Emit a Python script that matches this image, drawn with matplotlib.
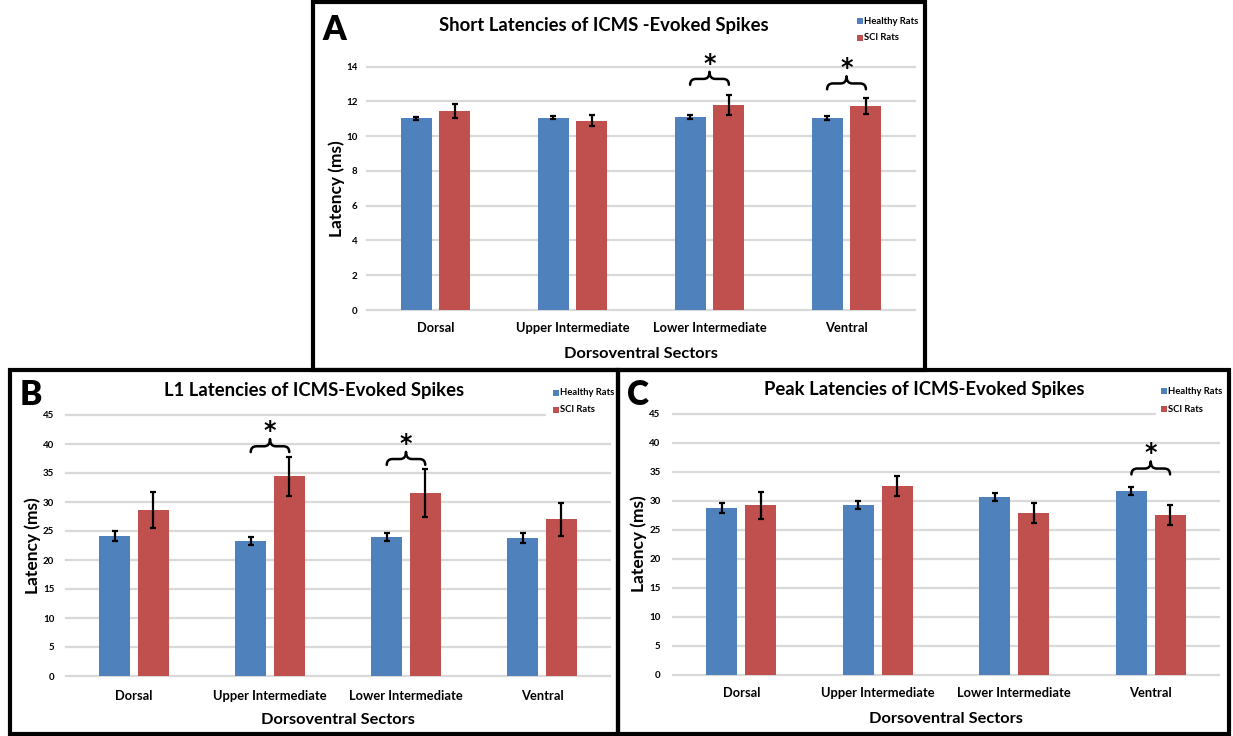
import numpy as np
import matplotlib
matplotlib.use('Agg')
import matplotlib.pyplot as plt
from matplotlib.patches import Rectangle, PathPatch
from matplotlib.path import Path

plt.rcParams['font.family'] = ['Lato', 'DejaVu Sans']
plt.rcParams['font.weight'] = 'bold'

W, H = 1233, 736

sectors = ['Dorsal', 'Upper Intermediate', 'Lower Intermediate', 'Ventral']
groups = ['Healthy Rats', 'SCI Rats']

# short latencies (ms)
short_healthy = [11.03, 11.07, 11.10, 11.05]
short_healthy_err = [0.08, 0.08, 0.10, 0.10]
short_sci = [11.45, 10.90, 11.80, 11.74]
short_sci_err = [0.43, 0.33, 0.60, 0.45]

# L1 latencies (ms)
l1_healthy = [24.2, 23.3, 24.0, 23.8]
l1_healthy_err = [0.85, 0.65, 0.65, 0.80]
l1_sci = [28.7, 34.4, 31.6, 27.0]
l1_sci_err = [3.10, 3.35, 4.15, 2.85]

# peak latencies (ms)
peak_healthy = [28.7, 29.2, 30.6, 31.6]
peak_healthy_err = [0.80, 0.65, 0.70, 0.70]
peak_sci = [29.2, 32.5, 27.9, 27.5]
peak_sci_err = [2.35, 1.80, 1.70, 1.70]

# significant differences: (sector index, height of brace ends)
short_sig = [(2, 12.96), (3, 12.70)]
l1_sig = [(1, 38.6), (2, 36.4)]
peak_sig = [(3, 34.5)]

BLUE = '#4F81BD'
RED = '#C0504D'
GRID = '#D9D9D9'


def fx(x):
    return x / W


def fy(y):
    return 1 - y / H


def draw_brace(ax, x0, x1, yb, h):
    xm = (x0 + x1) / 2
    r = 0.15 * (x1 - x0)
    ym = yb + 0.45 * h
    yt = yb + h
    verts = [(x0, yb), (x0, ym), (x0 + r, ym), (xm - r, ym), (xm, ym), (xm, yt),
             (xm, ym), (xm + r, ym), (x1 - r, ym), (x1, ym), (x1, yb)]
    codes = [Path.MOVETO, Path.CURVE3, Path.CURVE3, Path.LINETO, Path.CURVE3, Path.CURVE3,
             Path.CURVE3, Path.CURVE3, Path.LINETO, Path.CURVE3, Path.CURVE3]
    ax.add_patch(PathPatch(Path(verts, codes), fill=False, lw=1.8, color='black',
                           capstyle='round', joinstyle='round', clip_on=False, zorder=5))
    return xm, yt


panels = [
    dict(letter='A', title='Short Latencies of ICMS -Evoked Spikes',
         healthy=short_healthy, healthy_err=short_healthy_err,
         sci=short_sci, sci_err=short_sci_err, sig=short_sig,
         ymax=14, step=2, box=(313, 2, 925, 370),
         ax_px=(367, 66.7, 915, 310), ypad=7, xpad=8.6,
         title_xy=(604, 31), letter_xy=(322, 40),
         ylab_x=345, xlab_y=347, legend=(857, 21, 38), mask=None),
    dict(letter='B', title='L1 Latencies of ICMS-Evoked Spikes',
         healthy=l1_healthy, healthy_err=l1_healthy_err,
         sci=l1_sci, sci_err=l1_sci_err, sig=l1_sig,
         ymax=45, step=5, box=(10, 370, 618, 734),
         ax_px=(66, 415, 610, 676), ypad=8.5, xpad=10,
         title_xy=(314, 396), letter_xy=(20, 405),
         ylab_x=41, xlab_y=713, legend=(553, 393, 410), mask=(546, 384, 612, 420)),
    dict(letter='C', title='Peak Latencies of ICMS-Evoked Spikes',
         healthy=peak_healthy, healthy_err=peak_healthy_err,
         sci=peak_sci, sci_err=peak_sci_err, sig=peak_sig,
         ymax=45, step=5, box=(618, 370, 1229, 734),
         ax_px=(673, 413.5, 1219, 674.5), ypad=9, xpad=9,
         title_xy=(924, 395), letter_xy=(627, 405),
         ylab_x=647, xlab_y=712, legend=(1161, 391, 409), mask=(1156, 382, 1221, 418)),
]

fig = plt.figure(figsize=(W / 100, H / 100), dpi=100)

x = np.arange(len(sectors))
width = 0.227
off = 0.1415
err_style = dict(ecolor='black', elinewidth=1.6, capsize=2.5, capthick=1.6)

for p in panels:
    l, t, r, b = p['ax_px']
    ax = fig.add_axes([fx(l), fy(b), (r - l) / W, (b - t) / H])
    ax.bar(x - off, p['healthy'], width, yerr=p['healthy_err'], color=BLUE,
           error_kw=err_style, zorder=3)
    ax.bar(x + off, p['sci'], width, yerr=p['sci_err'], color=RED,
           error_kw=err_style, zorder=3)
    ax.set_xlim(-0.5, len(sectors) - 0.5)
    ax.set_ylim(0, p['ymax'])
    ax.set_yticks(np.arange(0, p['ymax'] + 1, p['step']))
    ax.set_xticks(x)
    ax.set_xticklabels(sectors)
    ax.yaxis.grid(True, color=GRID, lw=1.6)
    ax.set_axisbelow(True)
    for gl in ax.get_ygridlines():
        gl.set_clip_on(False)
    for s in ax.spines.values():
        s.set_visible(False)
    ax.tick_params(axis='y', length=0, pad=p['ypad'], labelsize=7)
    ax.tick_params(axis='x', length=0, pad=p['xpad'], labelsize=9.3)

    ax.set_ylabel('Latency (ms)', fontsize=12.5, fontweight='bold')
    ax.yaxis.set_label_coords((p['ylab_x'] - l) / (r - l), 0.5)
    ax.set_xlabel('Dorsoventral Sectors', fontsize=11.8, fontweight='bold')
    ax.xaxis.set_label_coords(0.5, -(p['xlab_y'] - b) / (b - t))

    # significance braces
    ppu = (b - t) / p['ymax']
    for i, yb in p['sig']:
        xm, yt = draw_brace(ax, i - off, i + off, yb, 13 / ppu)
        ax.annotate('*', xy=(xm, yt), xytext=(0, 0.8), textcoords='offset points',
                    ha='center', va='baseline', fontsize=17, fontweight='bold',
                    family='DejaVu Sans', annotation_clip=False)

    # white patch behind legend
    if p['mask'] is not None:
        mx0, my0, mx1, my1 = p['mask']
        fig.patches.append(Rectangle((fx(mx0), fy(my1)), (mx1 - mx0) / W, (my1 - my0) / H,
                                     transform=fig.transFigure, facecolor='white',
                                     edgecolor='none', zorder=2))

    # legend
    lx, ly1, ly2 = p['legend']
    for name, col, ly in zip(groups, [BLUE, RED], [ly1, ly2]):
        fig.patches.append(Rectangle((fx(lx), fy(ly + 3)), 6 / W, 6 / H,
                                     transform=fig.transFigure, facecolor=col,
                                     edgecolor='none', zorder=3))
        fig.text(fx(lx + 7), fy(ly), name, fontsize=6.8, ha='left', va='center', zorder=4)

    fig.text(fx(p['title_xy'][0]), fy(p['title_xy'][1]), p['title'], fontsize=13.3,
             ha='center', va='baseline')
    fig.text(fx(p['letter_xy'][0]), fy(p['letter_xy'][1]), p['letter'], fontsize=24,
             ha='left', va='baseline', fontweight='heavy')

    x0, y0, x1, y1 = p['box']
    fig.patches.append(Rectangle((fx(x0), fy(y1)), (x1 - x0) / W, (y1 - y0) / H,
                                 transform=fig.transFigure, fill=False,
                                 edgecolor='black', lw=3, zorder=6))

fig.savefig('out.png', dpi=100)
